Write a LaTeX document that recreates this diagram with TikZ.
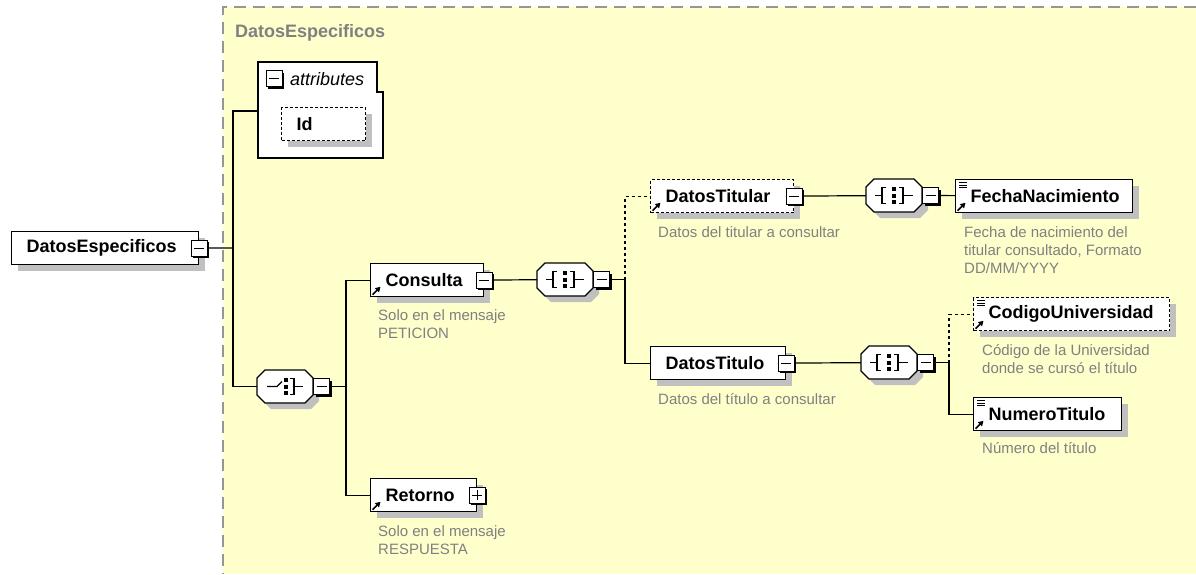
\documentclass[tikz,border=0pt]{standalone}
\usepackage{fontspec}
\setmainfont{Liberation Sans}
\usetikzlibrary{shadows,arrows.meta}
\definecolor{xsyellow}{RGB}{255,255,204}
\definecolor{xsgray}{RGB}{128,128,128}
\definecolor{xsborder}{RGB}{150,150,150}
\definecolor{xsshadow}{RGB}{192,192,192}
\begin{document}
\begin{tikzpicture}[x=1pt,y=-1pt,
  boxshadow/.style={drop shadow={shadow xshift=6pt,shadow yshift=-6pt,fill=xsshadow,opacity=1}},
  elem/.style={draw, fill=white, line width=1.2pt, anchor=north west,
    inner xsep=0pt, inner ysep=0pt, align=left, text width=#1, minimum width=#1,
    minimum height=33pt, font=\fontsize{18}{22}\selectfont\bfseries,
    execute at begin node=\hspace*{15pt}, boxshadow},
  optelem/.style={elem=#1, dash pattern=on 3pt off 2pt},
  minbox/.style={draw, fill=white, line width=1pt, minimum size=16pt, inner sep=0pt,
    drop shadow={shadow xshift=2pt,shadow yshift=-2pt,fill=black,opacity=1},
    path picture={\draw[line width=1.2pt] ([xshift=3pt]path picture bounding box.west)
      -- ([xshift=-3pt]path picture bounding box.east);}},
  plusbox/.style={minbox,
    path picture={\draw[line width=1.2pt] ([xshift=3pt]path picture bounding box.west)
      -- ([xshift=-3pt]path picture bounding box.east)
      ([yshift=-3pt]path picture bounding box.north)
      -- ([yshift=3pt]path picture bounding box.south);}},
  octo/.style={inner sep=0pt, minimum width=56pt, minimum height=33pt},
  note/.style={anchor=north west, inner sep=0pt, align=left, text=xsgray,
    font=\fontsize{15}{18}\selectfont},
  wire/.style={line width=1.2pt},
  optwire/.style={line width=1.2pt, dash pattern=on 3pt off 3pt},
  refarrow/.style={line width=1.6pt, -{Triangle[length=5pt,width=5.5pt]}}]
\useasboundingbox (0,0) rectangle (1196,574);
% Background
\fill[xsyellow] (223,7) rectangle (1196,574);
\draw[xsborder, line width=1.5pt, dash pattern=on 12pt off 7pt] (1196,7) -- (223,7) -- (223,574);
\node[anchor=north west, inner sep=0pt, text=xsgray, font=\fontsize{18}{22}\selectfont\bfseries] (title) at (235,24) {DatosEspecificos};
% Attributes
\draw[fill=white, line width=1.2pt] (258,62) -- (377,62) -- (377,92) -- (383,92) -- (383,158) -- (258,158) -- cycle;
\node[minbox] (attrs-m) at (274,78.5) {};
\node[anchor=base west, inner sep=0pt, font=\fontsize{18}{22}\selectfont\itshape] (attrs-t) at (290,85) {attributes};
\node[optelem=84] (id) at (281,107) {Id};
\coordinate (attrs) at (258,111);
% Compositors
\node[octo] (choice) at (285,386.5) {};
\node[octo] (seqa) at (565,279.5) {};
\node[octo] (seqb) at (894,195.5) {};
\node[octo] (seqc) at (889,362.5) {};
\foreach \s in {choice,seqa,seqb,seqc} {
  \begin{scope}[shift={(\s.center)}]
    \draw[fill=white, line width=1.2pt, boxshadow] (-20,-16.5) -- (20,-16.5) -- (28,-8.5) -- (28,8.5)
      -- (20,16.5) -- (-20,16.5) -- (-28,8.5) -- (-28,-8.5) -- cycle;
  \end{scope}
}
\foreach \s in {seqa,seqb,seqc} {
  \begin{scope}[shift={(\s.center)}, line width=1.2pt]
    \draw (-19,0) -- (-12,0) (-8,-8) -- (-12,-8) -- (-12,8) -- (-8,8);
    \draw (5,-8) -- (9,-8) -- (9,8) -- (5,8) (9,0) -- (19,0);
    \foreach \d in {-6.5,0,6.5} \fill (-2,\d-2) rectangle (2,\d+2);
  \end{scope}
}
\begin{scope}[shift={(choice.center)}, line width=1.2pt]
  \draw (-18,0) -- (-8,0) -- (-3,-5);
  \draw (5,-8) -- (9,-8) -- (9,8) -- (5,8) (9,0) -- (18,0);
  \foreach \d in {-6.5,0,6.5} \fill (-1,\d-2) rectangle (3,\d+2);
\end{scope}
\foreach \s in {choice,seqa,seqb,seqc}
  \node[minbox, anchor=west] (\s-m) at (\s.east) {};
% Elements
\node[elem=187] (root) at (11,231) {DatosEspecificos};
\node[minbox] (root-m) at (root.east) {};
\node[elem=113] (consulta) at (370,263) {Consulta};
\node[minbox] (consulta-m) at (consulta.east) {};
\node[note] (consulta-n) at (378,309) {Solo en el mensaje\\PETICION};
\node[elem=106] (retorno) at (370,478) {Retorno};
\node[plusbox] (retorno-m) at (retorno.east) {};
\node[note] (retorno-n) at (378,525) {Solo en el mensaje\\RESPUESTA};
\node[optelem=143] (titular) at (650,179) {DatosTitular};
\node[minbox] (titular-m) at (titular.east) {};
\node[note] (titular-n) at (658,226) {Datos del titular a consultar};
\node[elem=177] (fecha) at (955,179) {FechaNacimiento};
\node[note] (fecha-n) at (964,226) {Fecha de nacimiento del\\titular consultado, Formato\\DD/MM/YYYY};
\node[elem=135] (titulo) at (650,346) {DatosTitulo};
\node[minbox] (titulo-m) at (titulo.east) {};
\node[note] (titulo-n) at (658,393) {Datos del título a consultar};
\node[optelem=196] (codigo) at (973,297) {CodigoUniversidad};
\node[note] (codigo-n) at (982,344) {Código de la Universidad\\donde se cursó el título};
\node[elem=148] (numero) at (973,397) {NumeroTitulo};
\node[note] (numero-n) at (982,442) {Número del título};
% Icons
\foreach \n in {consulta,retorno,titular,fecha,codigo,numero}
  \draw[refarrow] ([shift={(2.5,-2.5)}]\n.south west) -- ++(8,-8);
\foreach \n in {fecha,codigo,numero}
  \foreach \d in {3.5,6,8.5}
    \draw[line width=0.9pt] ([shift={(4,\d)}]\n.north west) -- ++(8,0);
% Connectors
\coordinate (busa) at (233,248);
\coordinate (busb) at (346,386.5);
\coordinate (busc) at (625,279.5);
\coordinate (busd) at (949,362.5);
\draw[wire] (root-m) -- (busa);
\draw[wire] (attrs) -| (busa) |- (choice);
\draw[wire] (choice-m) -- (busb);
\draw[wire] (consulta) -| (busb) |- (retorno);
\draw[wire] (consulta-m) -- (seqa);
\draw[wire] (seqa-m) -- (busc);
\draw[optwire] (busc) |- (titular);
\draw[wire] (busc) |- (titulo);
\draw[wire] (titular-m) -- (seqb);
\draw[wire] (seqb-m) -- (fecha);
\draw[wire] (titulo-m) -- (seqc);
\draw[wire] (seqc-m) -- (busd);
\draw[optwire] (busd) |- (codigo);
\draw[wire] (busd) |- (numero);
\end{tikzpicture}
\end{document}
